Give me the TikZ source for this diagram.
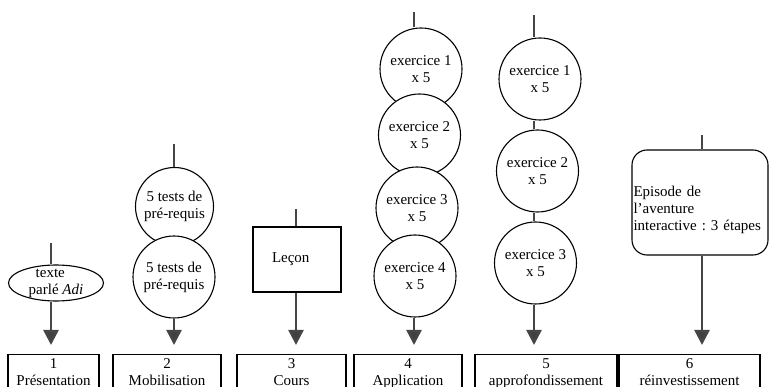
\documentclass[tikz,border=0pt]{standalone}
\usepackage{fontspec}
\setmainfont{Liberation Serif}
\usepackage{tikz}
\usetikzlibrary{arrows.meta,shapes.geometric}
\frenchspacing

\definecolor{liengris}{RGB}{70,70,70}
\tikzset{
  rond/.style={draw,circle,fill=white,line width=1.1pt,minimum size=82pt,inner sep=0pt,align=center},
  phase/.style={draw,rectangle,line width=1.1pt,anchor=north,align=center,inner ysep=4pt,inner xsep=0pt},
  lien/.style={draw=liengris,line width=2.6pt},
  fleche/.style={lien,-{Triangle[width=15pt,length=15pt,fill=black!75]},shorten >=9pt}
}

\begin{document}
\begin{tikzpicture}[x=1pt,y=-1pt,font=\fontsize{15}{17}\selectfont]
\useasboundingbox (0,0) rectangle (769,387);
\clip (0,0) rectangle (769,387);

% colonne 1
\coordinate (h1) at (51,243);
\node[draw,ellipse,fill=white,line width=1.1pt,minimum width=95pt,minimum height=36pt,
      inner xsep=0pt,inner ysep=-4pt,align=left] (parle) at (56,283) {\hspace*{7pt}texte\\parlé \textit{Adi}};

% colonne 2
\coordinate (h2) at (174,144);
\node[rond,minimum size=78pt] (test1) at (174.5,206.5) {5 tests de\\pré-requis};
\node[rond] (test2) at (174,277) {5 tests de\\pré-requis};

% colonne 3
\coordinate (h3) at (296,209);
\node[draw,rectangle,line width=1.1pt,minimum width=88pt,minimum height=65pt,
      text width=50pt,inner xsep=19pt,align=left] (lecon) at (297,259.5) {Leçon};

% colonne 4
\coordinate (h4) at (414,12);
\foreach \n/\x/\y in {1/421/69, 2/419.5/135, 3/417/208, 4/415/276}
  \node[rond] (app\n) at (\x,\y) {exercice \n\\x 5};

% colonne 5
\coordinate (h5) at (534,15);
\foreach \n/\x/\y in {1/540/79, 2/537.5/171, 3/535.5/263}
  \node[rond] (appro\n) at (\x,\y) {exercice \n\\x 5};

% colonne 6
\coordinate (h6) at (702,135);
\node[draw,rectangle,rounded corners=15pt,line width=1.1pt,minimum width=136pt,minimum height=105pt,
      text width=133pt,inner xsep=1.5pt,text height=26pt,align=left] (episode) at (700,202.5)
      {Episode de\\l'aventure\\interactive : 3 étapes};

% les phases
\foreach \n/\x/\w/\t in {1/53.5/91/Présentation, 2/167/108/Mobilisation, 3/291.5/109/Cours,
                         4/408/108/Application, 5/546/142/approfondissement, 6/689.5/141/réinvestissement}
  \node[phase,minimum width=\w pt] (phase\n) at (\x,354) {\n\\\t};

% liens
\draw[lien] (h1) -- (h1 |- parle.north);
\draw[fleche] (h1 |- parle.south) -- (h1 |- phase1.north);
\draw[lien] (h2) -- (h2 |- test1.north);
\draw[fleche] (h2 |- test2.south) -- (h2 |- phase2.north);
\draw[lien] (h3) -- (h3 |- lecon.north);
\draw[fleche] (h3 |- lecon.south) -- (h3 |- phase3.north);
\draw[lien] (h4) -- (h4 |- app1.north);
\draw[fleche] (h4 |- app4.south) -- (h4 |- phase4.north);
\draw[lien] (h5) -- (h5 |- appro1.north);
\draw[lien] (h5 |- appro1.south) -- (h5 |- appro2.north);
\draw[lien] (h5 |- appro2.south) -- (h5 |- appro3.north);
\draw[fleche] (h5 |- appro3.south) -- (h5 |- phase5.north);
\draw[lien] (h6) -- (h6 |- episode.north);
\draw[fleche] (h6 |- episode.south) -- (h6 |- phase6.north);

\end{tikzpicture}
\end{document}
